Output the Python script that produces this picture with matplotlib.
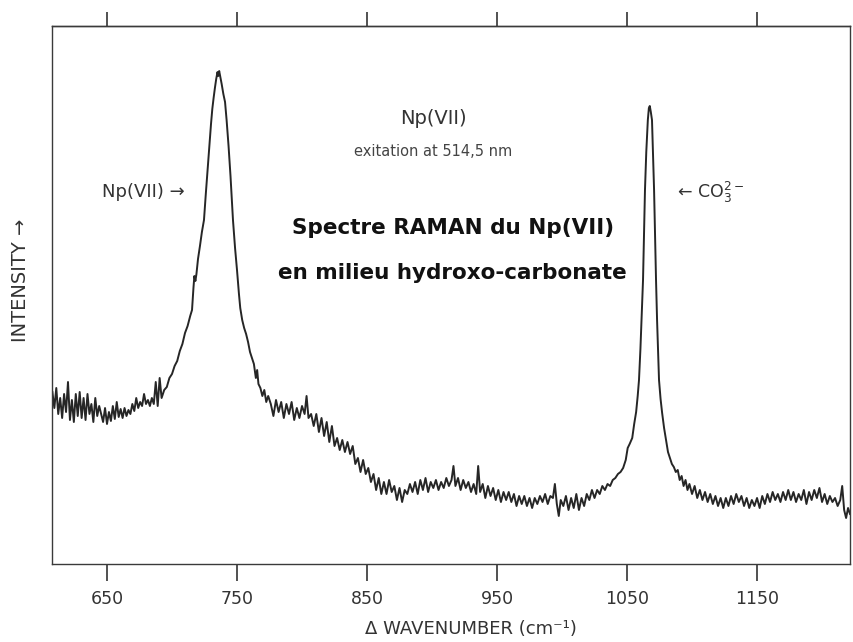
import numpy as np
import matplotlib
matplotlib.use("Agg")
import matplotlib.pyplot as plt

plt.rcParams["font.family"] = ["DejaVu Sans"]
plt.rcParams["mathtext.default"] = "regular"

# Raman spectrum of Np(VII) (arbitrary intensity units)
left_wn = [608, 609.5, 611, 612.5, 614, 615.5, 617, 618.5, 620, 621.5,
           623, 624.5, 626, 627.5, 629, 630.5, 632, 633.5, 635, 636.5,
           638, 639.5, 641, 642.5, 644, 645.5, 647, 648.5, 650, 651.5,
           653, 654.5, 656, 657.5, 659, 660.5, 662, 663.5, 665, 666.5,
           668, 669.5, 671, 672.5, 674, 675.5, 677, 678.5, 680, 681.5,
           683, 684.5, 686, 687.5, 689, 690.5]
left_int = [172, 156, 176, 150, 166, 146, 170, 152, 182, 144,
            164, 142, 170, 148, 172, 146, 166, 144, 170, 150,
            160, 142, 166, 148, 158, 150, 142, 156, 140, 152,
            143, 158, 145, 162, 147, 155, 146, 156, 148, 154,
            150, 160, 153, 166, 156, 162, 158, 170, 160, 164,
            158, 166, 160, 182, 158, 186]

np_wn = [692, 694, 696, 698, 700, 702, 704, 706, 708, 710, 712, 714,
         715.4, 716.5, 717.2, 718, 718.8, 720, 721.5, 723, 724.6,
         726, 727.5, 729, 730, 731, 732, 733, 734, 735,
         735.6, 736.3, 737.2, 738.2, 739.5, 740.8, 742, 743.5, 745, 746.9,
         748.5, 750, 751.5, 752.5, 754, 755.5, 757, 758.5, 760, 761.5,
         763, 764.5, 765.5, 766.5, 768, 769.5, 771, 772.5, 774]
np_int = [166, 174, 177, 186, 190, 198, 203, 213, 220, 231, 238, 248,
          254, 276, 288, 283, 290, 305, 318, 332, 344,
          370, 396, 422, 440, 455, 466, 476, 485, 492,
          488, 493, 487, 480, 470, 462, 444, 418, 388, 344,
          316, 294, 270, 256, 244, 236, 230, 222, 212, 206,
          200, 186, 194, 180, 176, 168, 174, 162, 168]

mid_wn = [776, 778, 780, 782, 784, 786, 788, 790, 792, 794,
          796, 798, 800, 802, 803.5, 805, 807, 809, 811, 813,
          815, 817, 819, 821, 823, 825, 827, 829, 831, 833,
          835, 837, 839, 841, 843, 845, 847, 849, 851, 853,
          855, 857, 859, 861, 863, 865, 867, 869, 871, 873,
          875, 877, 879, 881, 883, 885, 887, 889, 891, 893,
          895, 897, 899, 901, 903, 905, 907, 909, 911, 913,
          915, 916.5, 918, 920, 922, 924, 926, 928, 930, 932,
          934, 935.5, 937, 939, 941, 943, 945, 947, 949, 951,
          953, 955, 957, 959, 961, 963, 965, 967, 969, 971,
          973, 975, 977, 979, 981, 983, 985, 987, 989, 991,
          993, 994.5, 996, 997.5, 999, 1001, 1003, 1005, 1007, 1009,
          1011, 1013, 1015, 1017, 1019, 1021, 1023, 1025, 1027, 1029,
          1031, 1033, 1035, 1037, 1039, 1041, 1043, 1045, 1047, 1049,
          1050.5, 1052]
mid_int = [160, 148, 164, 152, 162, 146, 160, 150, 162, 144,
           156, 146, 158, 150, 168, 146, 150, 138, 150, 132,
           146, 128, 142, 122, 138, 118, 126, 114, 124, 112,
           122, 110, 118, 100, 106, 92, 104, 90, 96, 82,
           90, 74, 86, 70, 82, 70, 84, 72, 78, 64,
           76, 62, 74, 70, 80, 72, 82, 70, 84, 74,
           86, 72, 82, 76, 84, 74, 82, 76, 86, 78,
           84, 98, 78, 86, 74, 84, 76, 82, 72, 80,
           70, 98, 72, 80, 66, 78, 68, 76, 64, 74,
           62, 72, 64, 72, 62, 70, 58, 68, 60, 68,
           58, 66, 56, 66, 60, 68, 62, 70, 60, 68,
           66, 80, 60, 48, 64, 58, 68, 54, 66, 56,
           70, 54, 66, 58, 70, 64, 74, 66, 74, 70,
           78, 74, 80, 78, 84, 86, 90, 92, 96, 104,
           116, 120]

co3_wn = [1054, 1055.5, 1057, 1058.2, 1059.2, 1060.3, 1061.3, 1062.3, 1063.1, 1063.8,
          1064.8, 1066, 1066.8, 1067.5, 1068.3, 1069.2, 1070, 1070.8, 1071.5, 1072.3,
          1073.1, 1074.6, 1075.8, 1077, 1078.5, 1080]
co3_int = [126, 140, 152, 168, 184, 215, 250, 284, 330, 374,
           412, 444, 456, 458, 452, 444, 410, 374, 330, 284,
           244, 184, 165, 151, 136, 124]

right_wn = [1081.5, 1083, 1084.5, 1086, 1087.5, 1089, 1090.5, 1092, 1093.5, 1095,
            1096.5, 1098, 1100, 1102, 1104, 1106, 1108, 1110, 1112, 1114,
            1116, 1118, 1120, 1122, 1124, 1126, 1128, 1130, 1132, 1134,
            1136, 1138, 1140, 1142, 1144, 1146, 1148, 1150, 1152, 1154,
            1156, 1158, 1160, 1162, 1164, 1166, 1168, 1170, 1172, 1174,
            1176, 1178, 1180, 1182, 1184, 1186, 1188, 1190, 1192, 1194,
            1196, 1198, 1200, 1202, 1204, 1206, 1208, 1210, 1212, 1214,
            1215.5, 1217, 1218.5, 1220, 1221.5]
right_int = [112, 106, 100, 97, 92, 94, 84, 88, 78, 84,
             74, 80, 70, 78, 66, 74, 64, 72, 62, 70,
             60, 68, 58, 66, 56, 66, 58, 68, 60, 70,
             62, 68, 58, 66, 56, 64, 58, 66, 56, 68,
             60, 70, 62, 72, 64, 70, 62, 72, 64, 74,
             64, 72, 62, 70, 64, 74, 60, 72, 64, 74,
             66, 76, 62, 70, 60, 68, 62, 66, 58, 64,
             78, 54, 46, 56, 50]

xticks = [650, 750, 850, 950, 1050, 1150]

wn = np.concatenate([left_wn, np_wn, mid_wn, co3_wn, right_wn])
inten = np.concatenate([left_int, np_int, mid_int, co3_int, right_int])

fig = plt.figure(figsize=(8.54, 6.42), dpi=100)
ax = fig.add_axes([52 / 854, 78 / 642, 798 / 854, 538 / 642])

ax.plot(wn, inten, color="#262626", lw=1.4, solid_joinstyle="round")

ax.set_xlim(607.7, 1221.5)
ax.set_ylim(0, 538)
ax.set_yticks([])
ax.set_xticks(xticks)
ax.set_xticklabels([str(t) for t in xticks])
ax.tick_params(axis="x", direction="out", length=12, width=1.2, pad=7,
               labelsize=12.5, color="#333333", labelcolor="#333333")
for s in ax.spines.values():
    s.set_color("#3a3a3a")
    s.set_linewidth(1.0)

# unlabeled ticks along the top edge
top = ax.secondary_xaxis("top")
top.set_xticks(xticks)
top.tick_params(direction="out", length=10, width=1.2, labeltop=False, color="#333333")
top.spines["top"].set_color("#3a3a3a")
top.spines["top"].set_linewidth(1.0)

ax.set_xlabel("Δ WAVENUMBER (cm⁻¹)", fontsize=13, color="#333333")
ax.xaxis.label.set_va("center")
ax.xaxis.set_label_coords(0.525, -0.12)
ax.set_ylabel("INTENSITY →", fontsize=14, color="#333333")
ax.yaxis.label.set_va("center")
ax.yaxis.set_label_coords(-0.039, 0.528)

ax.text(901, 446, "Np(VII)", ha="center", va="center", fontsize=14, color="#333333")
ax.text(901, 412, "exitation at 514,5 nm", ha="center", va="center", fontsize=10.5,
        color="#444444")
ax.text(916, 336, "Spectre RAMAN du Np(VII)", ha="center", va="center", fontsize=15.5,
        fontweight="bold", color="#111111")
ax.text(916, 291, "en milieu hydroxo-carbonate", ha="center", va="center", fontsize=15.5,
        fontweight="bold", color="#111111")
ax.text(677.7, 372, "Np(VII) →", ha="center", va="center", fontsize=13, color="#333333")
ax.text(1088.5, 372, "← CO$_3^{2-}$", ha="left", va="center", fontsize=12.5,
        color="#333333")

fig.savefig("out.png", dpi=100)
